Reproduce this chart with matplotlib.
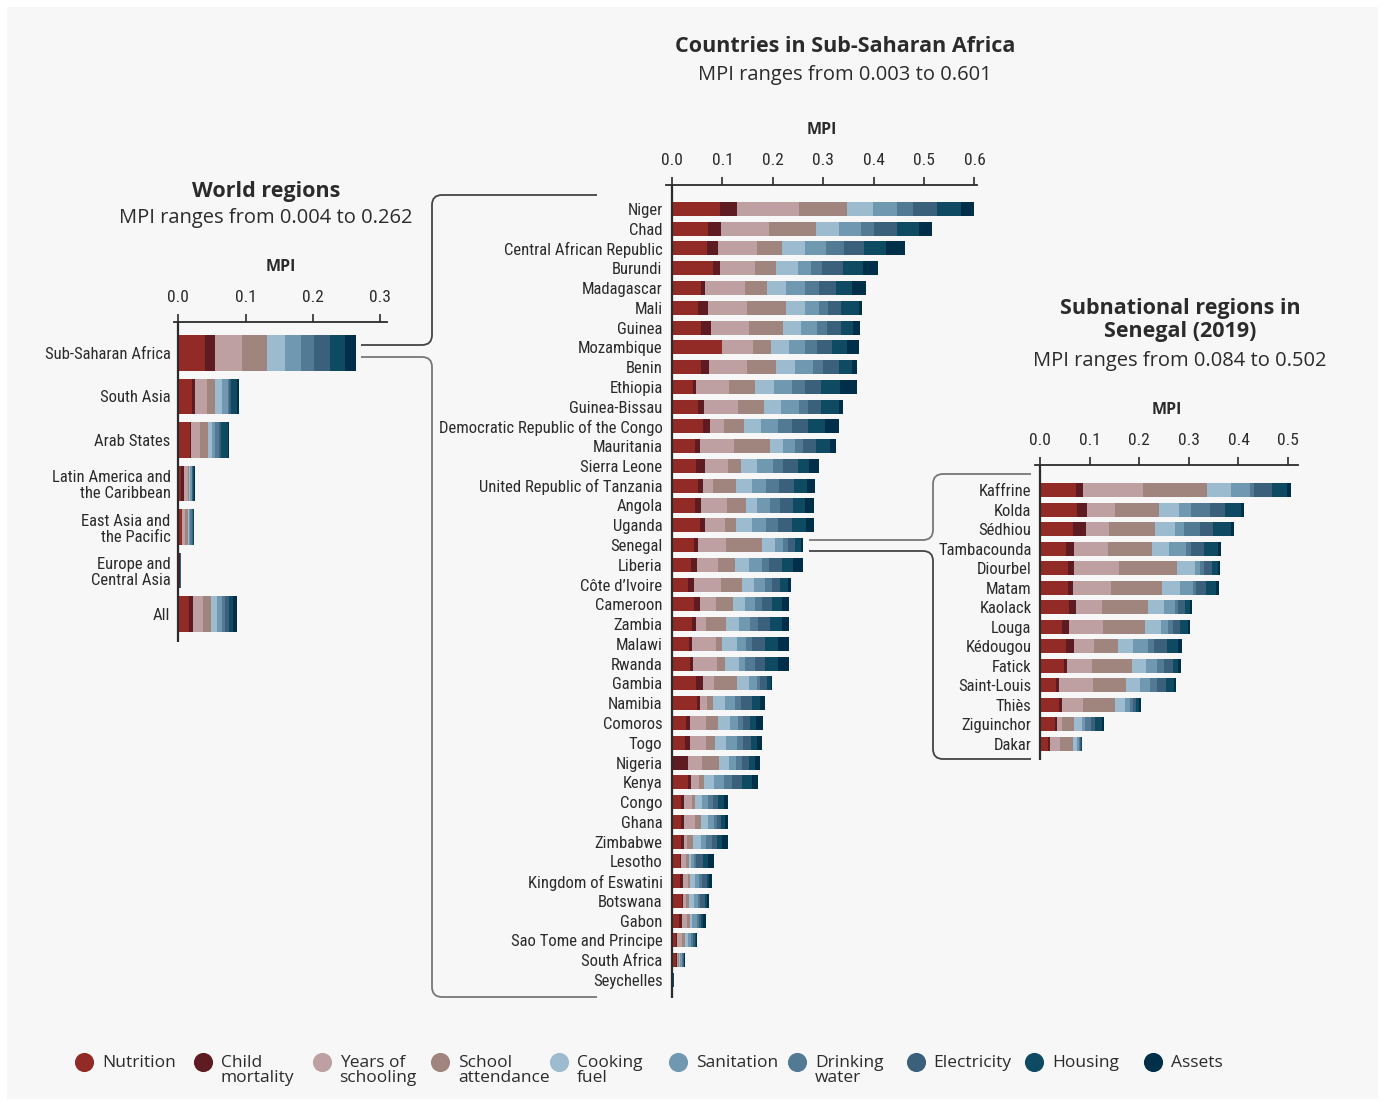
"""MPI by region, country and Senegal subnational region, stacked by indicator."""
import numpy as np
import matplotlib
matplotlib.use("Agg")
import matplotlib.pyplot as plt
from matplotlib.path import Path
from matplotlib.patches import PathPatch

INDICATORS = ["Nutrition", "Child\nmortality", "Years of\nschooling", "School\nattendance",
              "Cooking\nfuel", "Sanitation", "Drinking\nwater", "Electricity", "Housing", "Assets"]
COLORS = ["#922b26", "#5e1c22", "#bfa0a2", "#a0857e", "#9dbbcf",
          "#7098b0", "#527a95", "#3b607b", "#0f4a63", "#003049"]

# world regions: contributions of each indicator to MPI
regions = ["Sub-Saharan Africa", "South Asia", "Arab States", "Latin America and\nthe Caribbean",
           "East Asia and\nthe Pacific", "Europe and\nCentral Asia", "All"]
regions_vals = [
    [0.040, 0.015, 0.040, 0.037, 0.027, 0.024, 0.018, 0.024, 0.023, 0.016],
    [0.021, 0.004, 0.018, 0.012, 0.010, 0.009, 0.002, 0.002, 0.009, 0.004],
    [0.017, 0.002, 0.013, 0.012, 0.006, 0.004, 0.006, 0.004, 0.010, 0.001],
    [0.004, 0.004, 0.006, 0.002, 0.002, 0.002, 0.001, 0.001, 0.002, 0.001],
    [0.005, 0.001, 0.004, 0.004, 0.002, 0.002, 0.002, 0.002, 0.001, 0.001],
    [0.001, 0.001, 0.0005, 0.0005, 0.0, 0.0, 0.0, 0.0005, 0.0005, 0.0],
    [0.016, 0.006, 0.015, 0.012, 0.009, 0.007, 0.005, 0.005, 0.007, 0.006],
]

countries = ["Niger", "Chad", "Central African Republic", "Burundi", "Madagascar", "Mali",
             "Guinea", "Mozambique", "Benin", "Ethiopia", "Guinea-Bissau",
             "Democratic Republic of the Congo", "Mauritania", "Sierra Leone",
             "United Republic of Tanzania", "Angola", "Uganda", "Senegal", "Liberia",
             "Côte d’Ivoire", "Cameroon", "Zambia", "Malawi", "Rwanda", "Gambia", "Namibia",
             "Comoros", "Togo", "Nigeria", "Kenya", "Congo", "Ghana", "Zimbabwe", "Lesotho",
             "Kingdom of Eswatini", "Botswana", "Gabon", "Sao Tome and Principe",
             "South Africa", "Seychelles"]
countries_vals = [
    [0.096, 0.032, 0.123, 0.097, 0.050, 0.048, 0.032, 0.048, 0.048, 0.026],
    [0.072, 0.026, 0.095, 0.093, 0.046, 0.042, 0.026, 0.046, 0.044, 0.026],
    [0.070, 0.022, 0.077, 0.050, 0.044, 0.042, 0.036, 0.040, 0.044, 0.038],
    [0.082, 0.014, 0.069, 0.042, 0.042, 0.026, 0.022, 0.042, 0.040, 0.030],
    [0.058, 0.008, 0.079, 0.044, 0.038, 0.036, 0.028, 0.034, 0.032, 0.028],
    [0.052, 0.020, 0.077, 0.077, 0.038, 0.028, 0.018, 0.026, 0.034, 0.006],
    [0.058, 0.020, 0.075, 0.067, 0.036, 0.032, 0.020, 0.028, 0.022, 0.014],
    [0.100, 0.000, 0.061, 0.036, 0.034, 0.032, 0.024, 0.030, 0.030, 0.024],
    [0.058, 0.016, 0.075, 0.057, 0.038, 0.036, 0.020, 0.032, 0.024, 0.010],
    [0.042, 0.006, 0.065, 0.051, 0.038, 0.036, 0.026, 0.032, 0.038, 0.032],
    [0.052, 0.012, 0.067, 0.051, 0.034, 0.036, 0.018, 0.026, 0.036, 0.008],
    [0.062, 0.014, 0.026, 0.040, 0.034, 0.034, 0.028, 0.032, 0.034, 0.028],
    [0.046, 0.010, 0.067, 0.071, 0.026, 0.024, 0.016, 0.026, 0.028, 0.012],
    [0.048, 0.018, 0.044, 0.026, 0.032, 0.032, 0.020, 0.030, 0.022, 0.020],
    [0.052, 0.010, 0.020, 0.044, 0.032, 0.028, 0.026, 0.030, 0.026, 0.016],
    [0.046, 0.012, 0.051, 0.038, 0.022, 0.026, 0.020, 0.024, 0.024, 0.018],
    [0.056, 0.010, 0.038, 0.022, 0.032, 0.028, 0.024, 0.028, 0.028, 0.016],
    [0.044, 0.008, 0.055, 0.071, 0.026, 0.016, 0.010, 0.014, 0.012, 0.004],
    [0.038, 0.012, 0.042, 0.032, 0.028, 0.026, 0.014, 0.026, 0.022, 0.020],
    [0.032, 0.012, 0.053, 0.042, 0.024, 0.022, 0.014, 0.016, 0.014, 0.006],
    [0.044, 0.012, 0.032, 0.032, 0.024, 0.020, 0.014, 0.020, 0.020, 0.014],
    [0.040, 0.008, 0.020, 0.038, 0.026, 0.022, 0.016, 0.024, 0.024, 0.014],
    [0.034, 0.006, 0.048, 0.012, 0.028, 0.018, 0.012, 0.026, 0.026, 0.022],
    [0.036, 0.006, 0.048, 0.014, 0.028, 0.012, 0.020, 0.020, 0.026, 0.022],
    [0.048, 0.014, 0.022, 0.044, 0.024, 0.016, 0.006, 0.014, 0.008, 0.002],
    [0.050, 0.006, 0.014, 0.012, 0.022, 0.020, 0.012, 0.022, 0.016, 0.010],
    [0.028, 0.008, 0.032, 0.024, 0.022, 0.016, 0.010, 0.014, 0.012, 0.014],
    [0.026, 0.010, 0.032, 0.018, 0.020, 0.022, 0.012, 0.016, 0.012, 0.010],
    [0.000, 0.032, 0.028, 0.034, 0.018, 0.014, 0.012, 0.014, 0.012, 0.010],
    [0.032, 0.006, 0.016, 0.010, 0.020, 0.018, 0.016, 0.020, 0.020, 0.012],
    [0.018, 0.006, 0.016, 0.006, 0.014, 0.012, 0.010, 0.010, 0.010, 0.008],
    [0.018, 0.006, 0.022, 0.012, 0.014, 0.012, 0.006, 0.008, 0.006, 0.006],
    [0.018, 0.006, 0.006, 0.012, 0.016, 0.010, 0.012, 0.010, 0.010, 0.010],
    [0.016, 0.002, 0.010, 0.006, 0.004, 0.006, 0.004, 0.014, 0.010, 0.012],
    [0.016, 0.006, 0.010, 0.004, 0.010, 0.008, 0.006, 0.010, 0.004, 0.006],
    [0.020, 0.001, 0.006, 0.006, 0.010, 0.008, 0.004, 0.010, 0.004, 0.004],
    [0.014, 0.006, 0.010, 0.006, 0.004, 0.010, 0.004, 0.004, 0.004, 0.006],
    [0.008, 0.001, 0.010, 0.006, 0.006, 0.006, 0.004, 0.004, 0.002, 0.002],
    [0.008, 0.001, 0.002, 0.002, 0.002, 0.004, 0.002, 0.002, 0.001, 0.001],
    [0.000, 0.000, 0.001, 0.000, 0.000, 0.0005, 0.0005, 0.0005, 0.0005, 0.000],
]

senegal = ["Kaffrine", "Kolda", "Sédhiou", "Tambacounda", "Diourbel", "Matam", "Kaolack",
           "Louga", "Kédougou", "Fatick", "Saint-Louis", "Thiès", "Ziguinchor", "Dakar"]
senegal_vals = [
    [0.073, 0.014, 0.121, 0.129, 0.048, 0.038, 0.008, 0.036, 0.030, 0.008],
    [0.075, 0.020, 0.056, 0.089, 0.040, 0.024, 0.038, 0.030, 0.034, 0.006],
    [0.067, 0.026, 0.046, 0.093, 0.040, 0.018, 0.032, 0.026, 0.036, 0.006],
    [0.053, 0.016, 0.068, 0.089, 0.034, 0.034, 0.010, 0.026, 0.028, 0.006],
    [0.057, 0.012, 0.089, 0.117, 0.038, 0.010, 0.008, 0.016, 0.012, 0.004],
    [0.057, 0.010, 0.076, 0.103, 0.036, 0.026, 0.006, 0.020, 0.020, 0.006],
    [0.059, 0.014, 0.052, 0.093, 0.032, 0.022, 0.006, 0.014, 0.010, 0.004],
    [0.045, 0.014, 0.068, 0.085, 0.032, 0.014, 0.010, 0.014, 0.016, 0.004],
    [0.053, 0.016, 0.040, 0.048, 0.030, 0.030, 0.012, 0.026, 0.024, 0.008],
    [0.049, 0.006, 0.050, 0.081, 0.028, 0.022, 0.014, 0.018, 0.010, 0.006],
    [0.031, 0.006, 0.070, 0.066, 0.028, 0.020, 0.014, 0.018, 0.016, 0.004],
    [0.039, 0.006, 0.042, 0.064, 0.020, 0.010, 0.006, 0.006, 0.006, 0.004],
    [0.029, 0.004, 0.012, 0.024, 0.016, 0.006, 0.012, 0.008, 0.014, 0.004],
    [0.015, 0.004, 0.022, 0.026, 0.008, 0.004, 0.002, 0.002, 0.001, 0.001],
]

W, H = 1385, 1106
BG = "#f7f7f7"
INK = "#2b2b2b"
LABEL_FONT = ["Roboto Condensed", "Liberation Sans Narrow", "DejaVu Sans"]
TITLE_FONT = ["Open Sans", "Lato", "DejaVu Sans"]

fig = plt.figure(figsize=(W / 100, H / 100), dpi=100, facecolor=BG)


def px_axes(x0, y0, x1, y1):
    # pixel box (top-left origin) -> figure fraction axes
    return fig.add_axes([x0 / W, 1 - y1 / H, (x1 - x0) / W, (y1 - y0) / H])


def stacked(ax, labels, vals, xmax, ticks, ylim, height):
    vals = np.array(vals)
    y = np.arange(len(labels))
    left = np.zeros(len(labels))
    for j in range(vals.shape[1]):
        ax.barh(y, vals[:, j], left=left, height=height, color=COLORS[j], linewidth=0)
        left += vals[:, j]
    ax.set_facecolor("none")
    ax.set_xlim(-0.012 * xmax / 0.6, xmax)
    ax.set_ylim(*ylim)
    ax.set_yticks(y)
    ax.set_yticklabels(labels, family=LABEL_FONT, fontsize=12, color=INK, linespacing=1.1)
    ax.tick_params(axis="y", length=0, pad=2.5)
    ax.xaxis.tick_top()
    ax.set_xticks(ticks)
    ax.set_xticklabels([f"{t:.1f}" for t in ticks], family=LABEL_FONT, fontsize=12.5, color=INK)
    ax.tick_params(axis="x", direction="out", length=6, width=1.2, color=INK, pad=6)
    ax.xaxis.set_label_position("top")
    ax.set_xlabel("MPI", family=TITLE_FONT, fontsize=11.5, fontweight="bold", color=INK, labelpad=14)
    for s in ["right", "bottom", "left"]:
        ax.spines[s].set_visible(False)
    ax.spines["top"].set_color(INK)
    ax.spines["top"].set_linewidth(1.3)
    ax.axvline(0, color=INK, lw=1.6, zorder=3)


ax1 = px_axes(174, 322, 387, 642)
stacked(ax1, regions, regions_vals, 0.31, [0.0, 0.1, 0.2, 0.3], (6.64, -0.71), 0.82)

ax2 = px_axes(666, 185, 977, 998)
stacked(ax2, countries, countries_vals, 0.605, [0.0, 0.1, 0.2, 0.3, 0.4, 0.5, 0.6],
        (39.91, -1.21), 0.71)

ax3 = px_axes(1035, 465, 1298, 760)
stacked(ax3, senegal, senegal_vals, 0.52, [0.0, 0.1, 0.2, 0.3, 0.4, 0.5],
        (13.82, -1.28), 0.72)

# overlay in pixel coordinates for titles, connectors and legend
ov = fig.add_axes([0, 0, 1, 1])
ov.set_xlim(0, W)
ov.set_ylim(H, 0)
ov.axis("off")
ov.patch.set_alpha(0)


def title(x, y, head, sub, sub_dy):
    ov.text(x, y, head, ha="center", va="center", family=TITLE_FONT, fontsize=15.5,
            fontweight="bold", color=INK, linespacing=1.15)
    ov.text(x, y + sub_dy, sub, ha="center", va="center",
            family=TITLE_FONT, fontsize=14.5, color=INK)


title(266, 191, "World regions", "MPI ranges from 0.004 to 0.262", 27)
title(845, 47, "Countries in Sub-Saharan Africa", "MPI ranges from 0.003 to 0.601", 28)
title(1180, 320, "Subnational regions in\nSenegal (2019)", "MPI ranges from 0.084 to 0.502", 41)


def bracket(x0, y0, xv, y1, x1, r=10, color="#555555"):
    s = np.sign(y1 - y0)
    verts = [(x0, y0), (xv - r, y0), (xv, y0), (xv, y0 + s * r),
             (xv, y1 - s * r), (xv, y1), (xv + r, y1), (x1, y1)]
    codes = [Path.MOVETO, Path.LINETO, Path.CURVE3, Path.CURVE3,
             Path.LINETO, Path.CURVE3, Path.CURVE3, Path.LINETO]
    ov.add_patch(PathPatch(Path(verts, codes), fill=False, edgecolor=color, lw=1.3))


bracket(361, 345, 432, 195, 597, color="#444444")
bracket(361, 357, 432, 997, 597, color="#777777")
bracket(809, 540, 933, 474, 1031, color="#777777")
bracket(809, 551, 933, 759, 1031, color="#444444")

# legend
for i, (lab, col) in enumerate(zip(INDICATORS, COLORS)):
    cx = 84 + i * 118.8
    ov.scatter([cx], [1062], s=190, color=col, marker="o", linewidths=0)
    ov.text(cx + 18, 1055, lab, ha="left", va="top", family=TITLE_FONT, fontsize=12.5,
            color=INK, linespacing=0.9)

fig.patch.set_edgecolor("white")
fig.patch.set_linewidth(10)
fig.savefig("out.png", dpi=100, facecolor=BG, edgecolor="white")
